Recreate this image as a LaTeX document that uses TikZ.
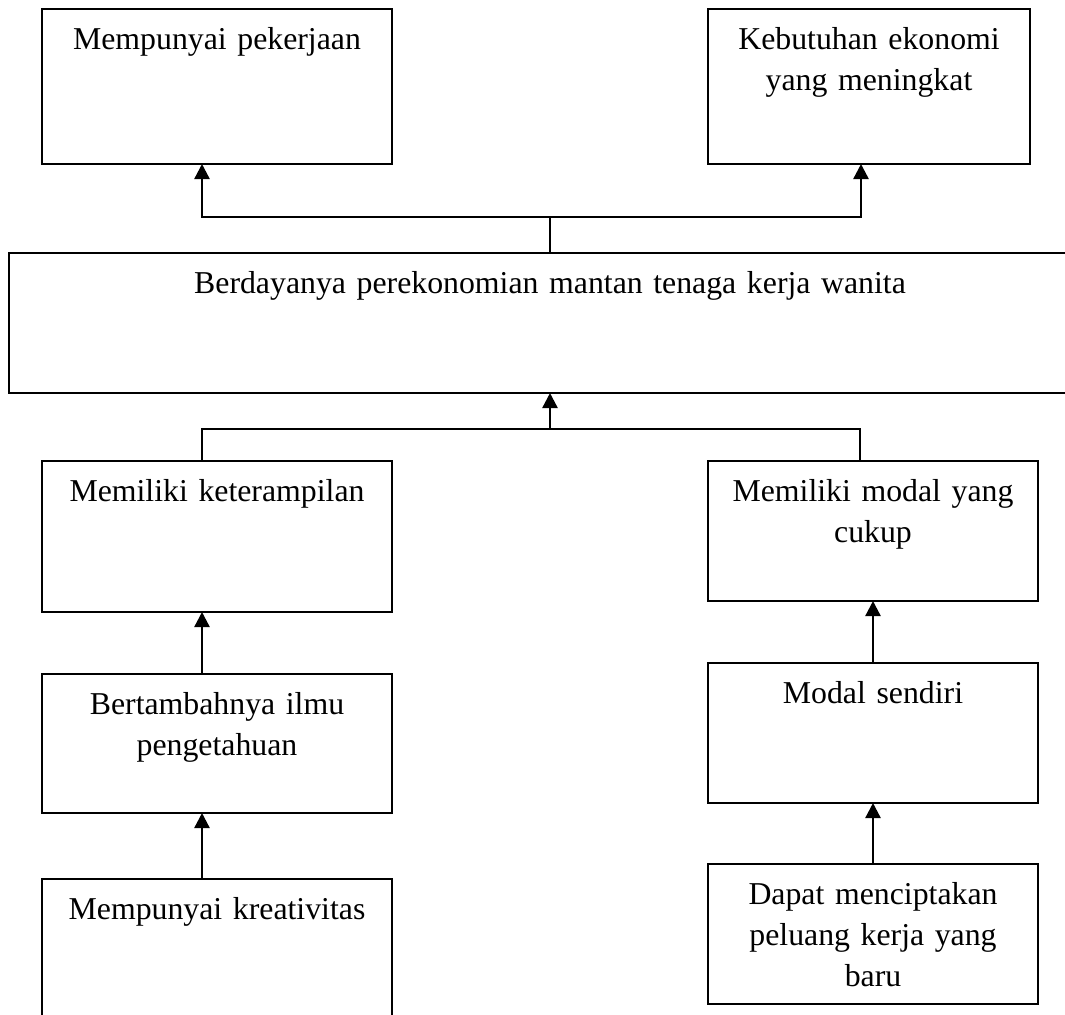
\documentclass[tikz,border=0pt]{standalone}
\usepackage{fontspec}
\setmainfont{Liberation Serif}
\usetikzlibrary{arrows.meta}

\tikzset{
  kotak/.style={draw, line width=0.9pt, anchor=north west, outer sep=0pt,
    inner xsep=2pt, inner ysep=0pt, align=center, text height=20pt,
    font=\fontsize{15.9}{20.5}\selectfont},
  panah/.style={line width=1.2pt, -{Triangle[width=7.5pt,length=7.5pt]}},
  garis/.style={line width=1.2pt}
}

\begin{document}
\begin{tikzpicture}[x=0.5pt, y=-0.5pt]
\useasboundingbox (0,0) rectangle (1065,1014);
% kotak atas
\node[kotak, text width=171pt, text depth=57.5pt] (kerja) at (42,9) {Mempunyai pekerjaan};
\node[kotak, text width=157pt, text depth=57.5pt] (ekonomi) at (708,9) {Kebutuhan ekonomi\\yang meningkat};
% kotak tengah
\node[kotak, text width=537pt, text depth=50pt] (berdaya) at (9,253) {Berdayanya perekonomian mantan tenaga kerja wanita};
% kiri
\node[kotak, text width=171pt, text depth=55.5pt] (terampil) at (42,461) {Memiliki keterampilan};
\node[kotak, text width=171pt, text depth=49.5pt] (ilmu) at (42,674) {Bertambahnya ilmu\\pengetahuan};
\node[kotak, text width=171pt, text depth=60pt] (kreatif) at (42,879) {Mempunyai kreativitas};
% kanan
\node[kotak, text width=161pt, text depth=50pt] (modal) at (708,461) {Memiliki modal yang\\cukup};
\node[kotak, text width=161pt, text depth=50pt] (sendiri) at (708,663) {Modal sendiri};
\node[kotak, text width=161pt, text depth=50pt] (cipta) at (708,864) {Dapat menciptakan\\peluang kerja yang\\baru};

% panah ke atas
\coordinate (cabang) at (550,217);
\draw[garis] (berdaya.north) -- (cabang);
\draw[panah] (cabang) -| ([xshift=-7.5pt]kerja.south);
\draw[panah] (cabang) -| ([xshift=-4pt]ekonomi.south);

\coordinate (gabung) at (550,429);
\draw[garis] ([xshift=-7.5pt]terampil.north) |- (gabung);
\draw[garis] ([xshift=-6.5pt]modal.north) |- (gabung);
\draw[panah] (gabung) -- (berdaya.south);

\draw[panah] ([xshift=-7.5pt]ilmu.north) -- ([xshift=-7.5pt]terampil.south);
\draw[panah] ([xshift=-7.5pt]kreatif.north) -- ([xshift=-7.5pt]ilmu.south);
\draw[panah] (sendiri.north) -- (modal.south);
\draw[panah] (cipta.north) -- (sendiri.south);
\end{tikzpicture}
\end{document}
